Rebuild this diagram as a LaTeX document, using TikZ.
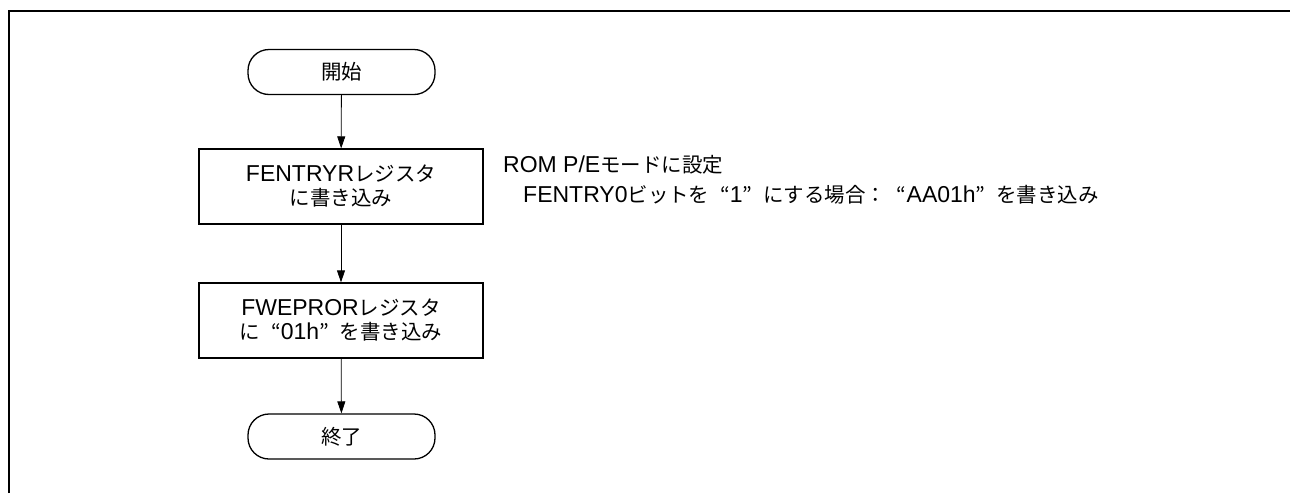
\documentclass[tikz,border=0pt]{standalone}
\usepackage{fontspec}
\setmainfont{Liberation Sans}
\newfontfamily\cjk[Scale=0.89]{Noto Sans CJK JP}
\newcommand\jlq{{\cjk\makebox[1em][r]{“}}}
\newcommand\jrq{{\cjk\makebox[1em][l]{”}}}
\usetikzlibrary{arrows.meta}
\tikzset{
  termbox/.style={draw, line width=1.3pt, minimum width=187pt, minimum height=45pt, rounded corners=21pt, inner sep=0pt},
  procbox/.style={draw, line width=1.3pt, minimum width=284pt, minimum height=75pt, inner sep=0pt, align=center},
  flow/.style={line width=0.8pt, -{Triangle[length=12pt,width=8pt]}},
  frameline/.style={line width=2.6pt},
  txt/.style={font=\fontsize{23}{24}\selectfont},
  notetxt/.style={font=\fontsize{23}{25}\selectfont, inner sep=0pt, anchor=base west}
}
\begin{document}
\begin{tikzpicture}[x=1pt,y=-1pt]
\useasboundingbox (0,0) rectangle (1290,493);
\coordinate (fa) at (9,493);
\coordinate (fb) at (9,11);
\coordinate (fc) at (1290,11);
\draw[frameline] (fa) -- (fb) -- (fc);
\node[termbox, txt] (start) at (341.5,72) {\cjk 開始};
\node[procbox, txt] (b1) at (341,186.5) {FENTRYR{\cjk レジスタ}\\{\cjk に書き込み}};
\node[procbox, txt] (b2) at (341,320.5) {FWEPROR{\cjk レジスタ}\\{\cjk に}\jlq 01h\jrq{\cjk を書き込み}};
\node[termbox, txt] (stop) at (341.5,436.5) {\cjk 終了};
\draw[flow] (start) -- (b1);
\draw[flow] (b1) -- (b2);
\draw[flow] (b2) -- (stop);
\node[notetxt] (note1) at (503,172) {ROM P/E{\cjk モードに設定}};
\node[notetxt] (note2) at (523,202) {FENTRY0{\cjk ビットを}\jlq 1\jrq{\cjk にする場合：}\jlq AA01h\jrq{\cjk を書き込み}};
\end{tikzpicture}
\end{document}
